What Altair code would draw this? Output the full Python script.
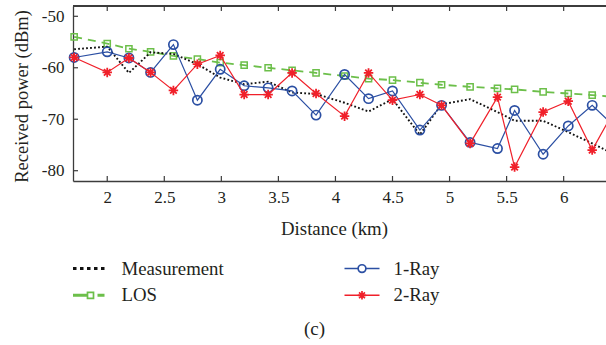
import altair as alt
import pandas as pd

# ---- data ----
distance_km = [1.71, 2.0, 2.19, 2.38, 2.58, 2.79, 2.99, 3.2, 3.41, 3.62, 3.83, 4.08,
               4.29, 4.5, 4.74, 4.93, 5.18, 5.42, 5.57, 5.82, 6.04, 6.25, 6.46]
measurement = [-56.4, -55.9, -61.0, -57.0, -57.3, -59.3, -61.9, -63.2, -62.7, -64.8, -65.1, -66.8,
               -68.5, -66.1, -73.0, -67.1, -66.1, -68.6, -70.3, -70.3, -72.5, -74.7, -77.0]
los = [-54.0, -55.3, -56.3, -56.9, -57.7, -58.3, -59.0, -59.5, -60.0, -60.5, -61.0, -61.6,
       -62.1, -62.4, -62.9, -63.3, -63.7, -64.0, -64.2, -64.7, -65.0, -65.3, -65.7]
ray1 = [-58.0, -56.9, -58.1, -60.9, -55.5, -66.3, -60.3, -63.5, -63.9, -64.5, -69.2, -61.3,
        -66.0, -64.5, -72.1, -67.3, -74.5, -75.7, -68.3, -76.8, -71.3, -67.3, -71.7]
ray2 = [-58.0, -60.9, -58.1, -60.9, -64.4, -59.3, -57.6, -65.2, -65.2, -61.0, -65.0, -69.4,
        -61.0, -66.3, -65.2, -67.3, -74.7, -65.7, -79.3, -68.6, -66.5, -76.0, -67.6]
series_names = ["Measurement", "LOS", "1-Ray", "2-Ray"]
x_ticks = [2, 2.5, 3, 3.5, 4, 4.5, 5, 5.5, 6]
y_ticks = [-50, -60, -70, -80]
caption = "(c)"

# ---- styling ----
W, H = 533, 175
FONT = "Liberation Serif"
TXT = "#231f20"
FRAME = "#3c3c3c"
BLUE = "#2b4fa3"
RED = "#f0202a"
GREEN = "#6cbf4a"
BLACK = "#111111"
ASTERISK = "M-1,0L1,0M0,-1L0,1M-0.7,-0.7L0.7,0.7M-0.7,0.7L0.7,-0.7"

df = pd.DataFrame({"d": distance_km, "mes": measurement, "los": los,
                   "r1": ray1, "r2": ray2})

xs = alt.Scale(domain=[1.7, 6.371], nice=False, zero=False)
ys = alt.Scale(domain=[-82, -48], nice=False, zero=False)

x_axis = alt.Axis(values=x_ticks, labelExpr="'' + datum.value", ticks=False,
                  domainColor=FRAME, domainWidth=1.3, grid=False,
                  labelFont=FONT, labelFontSize=17, labelColor=TXT, labelPadding=8,
                  title="Distance (km)", titleFont=FONT, titleFontSize=18.8,
                  titleFontWeight="normal", titleColor=TXT,
                  titleX=261, titleY=47, titleBaseline="middle")
y_axis = alt.Axis(values=y_ticks, labelExpr="'' + datum.value", ticks=False,
                  domainColor=FRAME, domainWidth=1.3, grid=False,
                  labelFont=FONT, labelFontSize=17, labelColor=TXT, labelPadding=9,
                  title="Received power (dBm)", titleFont=FONT, titleFontSize=18.5,
                  titleFontWeight="normal", titleColor=TXT,
                  titleX=-52, titleY=90, titleAngle=270, titleBaseline="middle")


def X(field):
    return alt.X(field, scale=xs, axis=x_axis)


def Y(field):
    return alt.Y(field, scale=ys, axis=y_axis)


base = alt.Chart(df)
layers = [
    base.mark_line(color=GREEN, strokeWidth=1.8, strokeDash=[8, 6]).encode(x=X("d:Q"), y=Y("los:Q")),
    base.mark_point(shape="square", size=38, color=GREEN, strokeWidth=1.5, filled=False, opacity=1)
        .encode(x=X("d:Q"), y=Y("los:Q")),
    base.mark_line(color=BLACK, strokeWidth=1.9, strokeDash=[1.8, 2.2]).encode(x=X("d:Q"), y=Y("mes:Q")),
    base.mark_line(color=BLUE, strokeWidth=1.2).encode(x=X("d:Q"), y=Y("r1:Q")),
    base.mark_point(shape="circle", size=85, color=BLUE, strokeWidth=1.7, filled=False, opacity=1)
        .encode(x=X("d:Q"), y=Y("r1:Q")),
    base.mark_line(color=RED, strokeWidth=1.2).encode(x=X("d:Q"), y=Y("r2:Q")),
    base.mark_point(shape=ASTERISK, size=90, color=RED, strokeWidth=1.8, filled=False, opacity=1)
        .encode(x=X("d:Q"), y=Y("r2:Q")),
]

# inward tick marks and top frame
xt = alt.Chart(pd.DataFrame({"t": x_ticks}))
yt = alt.Chart(pd.DataFrame({"t": y_ticks}))
layers += [
    xt.mark_rule(color=FRAME, strokeWidth=1.2).encode(x=X("t:Q"), y=alt.value(H), y2=alt.value(H - 5)),
    xt.mark_rule(color=FRAME, strokeWidth=1.2).encode(x=X("t:Q"), y=alt.value(0), y2=alt.value(5)),
    yt.mark_rule(color=FRAME, strokeWidth=1.2).encode(y=Y("t:Q"), x=alt.value(0), x2=alt.value(5)),
    xt.mark_rule(color=FRAME, strokeWidth=1.3).encode(x=alt.value(0), x2=alt.value(W), y=alt.value(0)),
]

# legend (two columns, two rows)
row_y = [262.6, 289.3]
col_x = [0, 271.5]
text_dx = [48.5, 49]
legend_style = {
    "Measurement": dict(color=BLACK, dash=[3.5, 3.5], width=3, shape=None, size=0),
    "LOS": dict(color=GREEN, dash=[14, 10.5, 7], width=3, shape="square", size=36),
    "1-Ray": dict(color=BLUE, dash=None, width=1.5, shape="circle", size=60),
    "2-Ray": dict(color=RED, dash=None, width=1.5, shape=ASTERISK, size=70),
}
for i, name in enumerate(series_names):
    c, r = i // 2, i % 2
    st = legend_style[name]
    ld = alt.Chart(pd.DataFrame({"name": [name]}))
    x0 = col_x[c]
    rule_kw = dict(color=st["color"], strokeWidth=st["width"])
    if st["dash"]:
        rule_kw["strokeDash"] = st["dash"]
    layers.append(ld.mark_rule(**rule_kw).encode(
        x=alt.value(x0), x2=alt.value(x0 + 35), y=alt.value(row_y[r])))
    if st["shape"]:
        pt_kw = dict(shape=st["shape"], size=st["size"], color=st["color"],
                     strokeWidth=1.7, opacity=1)
        if st["shape"] == ASTERISK:
            pt_kw["filled"] = False
        else:
            pt_kw["fill"] = "white"
            pt_kw["stroke"] = st["color"]
            pt_kw["fillOpacity"] = 1
        layers.append(ld.mark_point(**pt_kw).encode(
            x=alt.value(x0 + 17.5), y=alt.value(row_y[r])))
    layers.append(ld.mark_text(align="left", baseline="middle", font=FONT, fontSize=18.8,
                               color=TXT).encode(
        text="name:N", x=alt.value(x0 + text_dx[c]), y=alt.value(row_y[r])))

cap = alt.Chart(pd.DataFrame({"label": [caption]})).mark_text(
    align="center", baseline="middle", font=FONT, fontSize=19, color=TXT
).encode(text="label:N", x=alt.value(241.5), y=alt.value(323))
layers.append(cap)

chart = alt.layer(*layers).properties(
    width=W, height=H,
    autosize=alt.AutoSizeParams(type="none"),
    padding={"left": 73, "top": 6, "right": 0, "bottom": 164},
    background="white",
).configure_view(stroke=None)

chart.save("out.html", embed_options={"renderer": "svg", "actions": False})
